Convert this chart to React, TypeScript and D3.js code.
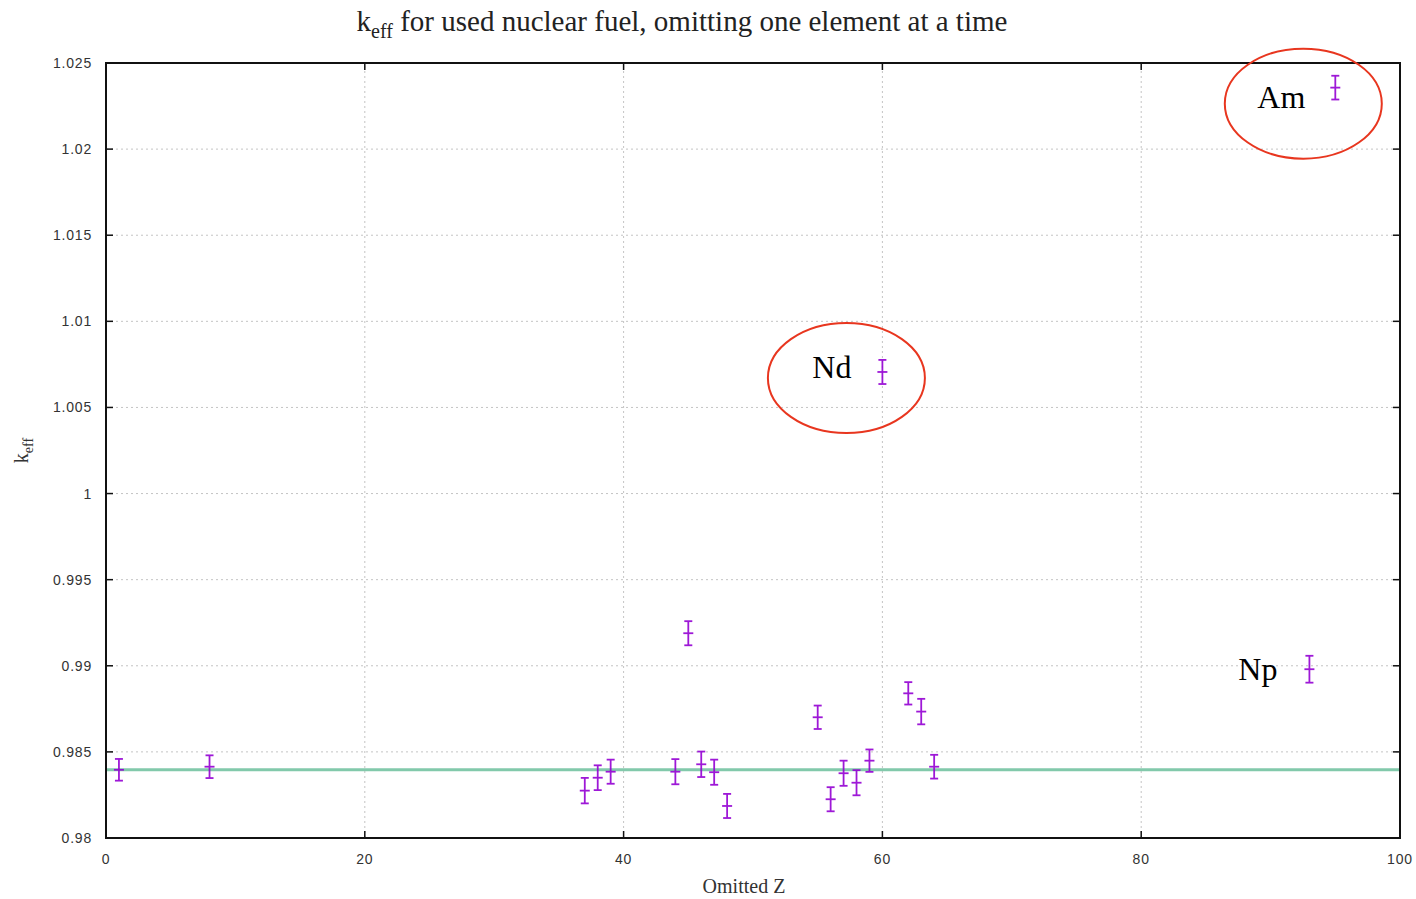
import React from 'react';
import * as d3 from 'd3';

// omitted element (atomic number Z) and the resulting k_eff with its error
const omittedZ = [1, 8, 37, 38, 39, 44, 45, 46, 47, 48, 55, 56, 57, 58, 59, 60, 62, 63, 64, 93, 95];
const keff = [0.98396, 0.98414, 0.98275, 0.9835, 0.98385, 0.98385, 0.99189, 0.98428, 0.98382, 0.98186,
  0.98701, 0.98225, 0.98376, 0.98321, 0.98449, 1.00706, 0.9884, 0.98734, 0.98414, 0.9898, 1.02357];
const keffErr = [0.00063, 0.00066, 0.00074, 0.00072, 0.0007, 0.00073, 0.0007, 0.00074, 0.00073, 0.0007,
  0.00068, 0.0007, 0.00073, 0.00073, 0.00065, 0.0007, 0.00065, 0.00074, 0.00069, 0.00078, 0.00069];
const baselineKeff = 0.98396;

const xTicks = [0, 20, 40, 60, 80, 100];
const yTicks = [0.98, 0.985, 0.99, 0.995, 1, 1.005, 1.01, 1.015, 1.02, 1.025];

// labelled elements
const labelNames = ['Am', 'Nd', 'Np'];
const labelZ = [95, 60, 93];
const labelCircled = [true, true, false];

const W = 1416, H = 899;
const margin = { left: 106, right: 16, top: 63, bottom: 61 };

export default function App() {
  const x = d3.scaleLinear().domain([0, 100]).range([margin.left, W - margin.right]);
  const y = d3.scaleLinear().domain([0.98, 1.025]).range([H - margin.bottom, margin.top]);
  const [x0, x1] = x.range();
  const [y0, y1] = y.range();
  const violet = '#9400d3';
  const tickFont = '"Liberation Sans", Arial, sans-serif';
  const serif = '"Liberation Serif", "Times New Roman", serif';

  // label text / ellipse offsets relative to the data point
  const labelOffsets: Record<string, { tx: number; ty: number; ex: number; ey: number }> = {
    Am: { tx: -30, ty: 20, ex: -32, ey: 16 },
    Nd: { tx: -31, ty: 6, ex: -36, ey: 6 },
    Np: { tx: -32, ty: 11, ex: 0, ey: 0 },
  };

  return (
    <svg width={W} height={H} style={{ position: 'absolute', left: 0, top: 0, background: '#fff' }}>
      {/* grid */}
      {xTicks.slice(1, -1).map(t => (
        <line key={'gx' + t} x1={x(t)} x2={x(t)} y1={y0} y2={y1} stroke="#c4c4c4" strokeWidth={1} strokeDasharray="2,3" />
      ))}
      {yTicks.slice(1, -1).map(t => (
        <line key={'gy' + t} x1={x0} x2={x1} y1={y(t)} y2={y(t)} stroke="#c4c4c4" strokeWidth={1} strokeDasharray="2,3" />
      ))}

      {/* reference level */}
      <line x1={x0} x2={x1} y1={y(baselineKeff)} y2={y(baselineKeff)} stroke="#82c9ab" strokeWidth={3} />

      {/* ticks, mirrored */}
      {xTicks.map(t => (
        <g key={'tx' + t} stroke="#111" strokeWidth={1.5}>
          <line x1={x(t)} x2={x(t)} y1={y0} y2={y0 - 7} />
          <line x1={x(t)} x2={x(t)} y1={y1} y2={y1 + 7} />
        </g>
      ))}
      {yTicks.map(t => (
        <g key={'ty' + t} stroke="#111" strokeWidth={1.5}>
          <line x1={x0} x2={x0 + 7} y1={y(t)} y2={y(t)} />
          <line x1={x1} x2={x1 - 7} y1={y(t)} y2={y(t)} />
        </g>
      ))}

      {/* tick labels */}
      {xTicks.map(t => (
        <text key={'lx' + t} x={x(t)} y={y0 + 26} textAnchor="middle" fontFamily={tickFont} fontSize={14}
          letterSpacing={0.8} fill="#333">{t}</text>
      ))}
      {yTicks.map(t => (
        <text key={'ly' + t} x={x0 - 14} y={y(t) + 5} textAnchor="end" fontFamily={tickFont} fontSize={14}
          letterSpacing={0.8} fill="#333">{String(t)}</text>
      ))}

      {/* error bars */}
      {omittedZ.map((z, i) => {
        const cx = x(z), cy = y(keff[i]);
        const top = y(keff[i] + keffErr[i]), bot = y(keff[i] - keffErr[i]);
        return (
          <g key={'p' + z} stroke={violet} strokeWidth={1.8} opacity={0.9}>
            <line x1={cx} x2={cx} y1={top} y2={bot} />
            <line x1={cx - 4} x2={cx + 4} y1={top} y2={top} />
            <line x1={cx - 4} x2={cx + 4} y1={bot} y2={bot} />
            <line x1={cx - 5} x2={cx + 5} y1={cy} y2={cy} />
          </g>
        );
      })}

      {/* border */}
      <rect x={x0} y={y1} width={x1 - x0} height={y0 - y1} fill="none" stroke="#111" strokeWidth={2} />

      {/* labels */}
      {labelNames.map((name, i) => {
        const idx = omittedZ.indexOf(labelZ[i]);
        const px = x(labelZ[i]), py = y(keff[idx]);
        const o = labelOffsets[name];
        return (
          <g key={name}>
            <text x={px + o.tx} y={py + o.ty} textAnchor="end" fontFamily={serif} fontSize={32} fill="#000">{name}</text>
            {labelCircled[i] && (
              <ellipse cx={px + o.ex} cy={py + o.ey} rx={78.5} ry={55} fill="none" stroke="#e8361f" strokeWidth={2} />
            )}
          </g>
        );
      })}

      {/* titles */}
      <text x={682} y={31} textAnchor="middle" fontFamily={serif} fontSize={29} fill="#222">
        k<tspan fontSize={20} dy={7}>eff</tspan><tspan dy={-7}> for used nuclear fuel, omitting one element at a time</tspan>
      </text>
      <text x={744} y={893} textAnchor="middle" fontFamily={serif} fontSize={20} fill="#333">Omitted Z</text>
      <text transform={`translate(28,${(y0 + y1) / 2}) rotate(-90)`} textAnchor="middle" fontFamily={serif} fontSize={20} fill="#333">
        k<tspan fontSize={14} dy={5}>eff</tspan>
      </text>
    </svg>
  );
}
